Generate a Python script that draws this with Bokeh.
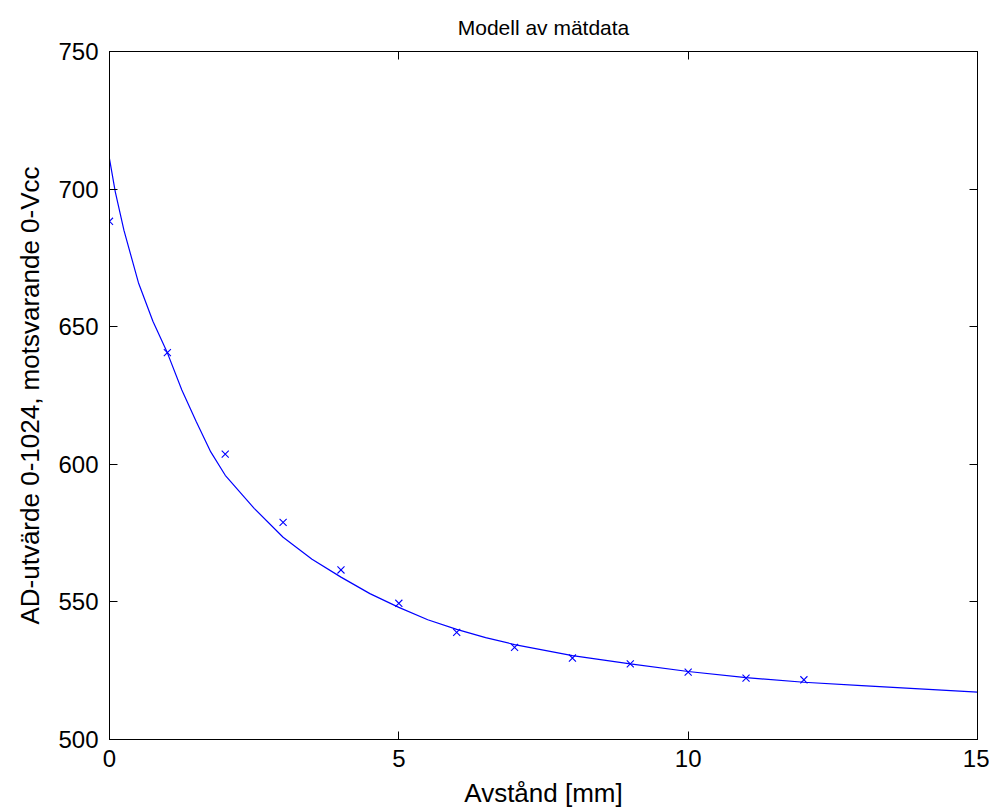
from bokeh.plotting import figure
from bokeh.models import LinearAxis, FixedTicker, Range1d
from bokeh.embed import file_html
from bokeh.resources import INLINE

# measured data (markers)
meas_x = [0, 1, 2, 3, 4, 5, 6, 7, 8, 9, 10, 11, 12]
meas_y = [688.3, 640.6, 603.7, 578.9, 561.6, 549.5, 538.9, 533.5, 529.6, 527.5, 524.5, 522.3, 521.7]

# model curve
model_x = [0, 0.1, 0.25, 0.5, 0.75, 1, 1.25, 1.5, 1.75, 2, 2.5, 3, 3.5, 4, 4.5, 5, 5.5, 6, 6.5,
           7, 8, 9, 10, 11, 12, 13, 14, 15]
model_y = [711, 699, 685, 666, 652, 640.5, 627, 615.5, 604.5, 596, 584, 573.5, 565.5, 559, 553,
           548, 543.5, 540, 537, 534.5, 530.5, 527.5, 524.7, 522.5, 520.8, 519.6, 518.4, 517.2]

x_ticks = [0, 5, 10, 15]
y_ticks = [500, 550, 600, 650, 700, 750]

FONT = "Liberation Sans"
BLUE = "#0000ff"

p = figure(frame_width=868, frame_height=688,
           x_range=Range1d(0, 15), y_range=Range1d(500, 750),
           output_backend="svg", toolbar_location=None,
           x_axis_location=None, y_axis_location=None,
           min_border_left=109, min_border_right=12, min_border_top=50, min_border_bottom=66,
           title="Modell av mätdata")
p.title.align = "center"
p.title.text_font = FONT
p.title.text_font_size = "21px"
p.title.text_font_style = "normal"
p.title.text_color = "black"
p.title.standoff = 26

p.xgrid.visible = False
p.ygrid.visible = False
p.outline_line_color = "black"
p.outline_line_width = 1
p.background_fill_color = "white"
p.border_fill_color = "white"


def style(ax, labels=True):
    ax.major_tick_in = 8
    ax.major_tick_out = 0
    ax.minor_tick_line_color = None
    ax.axis_line_color = "black"
    ax.major_tick_line_color = "black"
    ax.major_label_text_font = FONT
    ax.major_label_text_font_size = "24px"
    ax.major_label_text_color = "black" if labels else None
    ax.axis_label_text_font = FONT
    ax.axis_label_text_font_size = "26px"
    ax.axis_label_text_font_style = "normal"
    ax.axis_label_text_color = "black"


xb = LinearAxis(ticker=FixedTicker(ticks=x_ticks), axis_label="Avstånd [mm]")
style(xb)
xb.major_label_standoff = 10
xb.axis_label_standoff = 8
p.add_layout(xb, "below")

yl = LinearAxis(ticker=FixedTicker(ticks=y_ticks), axis_label="AD-utvärde 0-1024, motsvarande 0-Vcc")
style(yl)
yl.major_label_standoff = 11
yl.axis_label_standoff = 10
p.add_layout(yl, "left")

xt = LinearAxis(ticker=FixedTicker(ticks=x_ticks),
                major_label_overrides={t: "" for t in x_ticks})
style(xt, labels=False)
xt.major_label_standoff = 0
p.add_layout(xt, "above")

yr = LinearAxis(ticker=FixedTicker(ticks=y_ticks),
                major_label_overrides={t: "" for t in y_ticks})
style(yr, labels=False)
yr.major_label_standoff = 0
p.add_layout(yr, "right")

p.line(model_x, model_y, line_color=BLUE, line_width=1.2)
p.scatter(meas_x, meas_y, marker="x", size=10, line_color=BLUE, line_width=1.1)

open("out.html", "w").write(file_html(p, INLINE))
